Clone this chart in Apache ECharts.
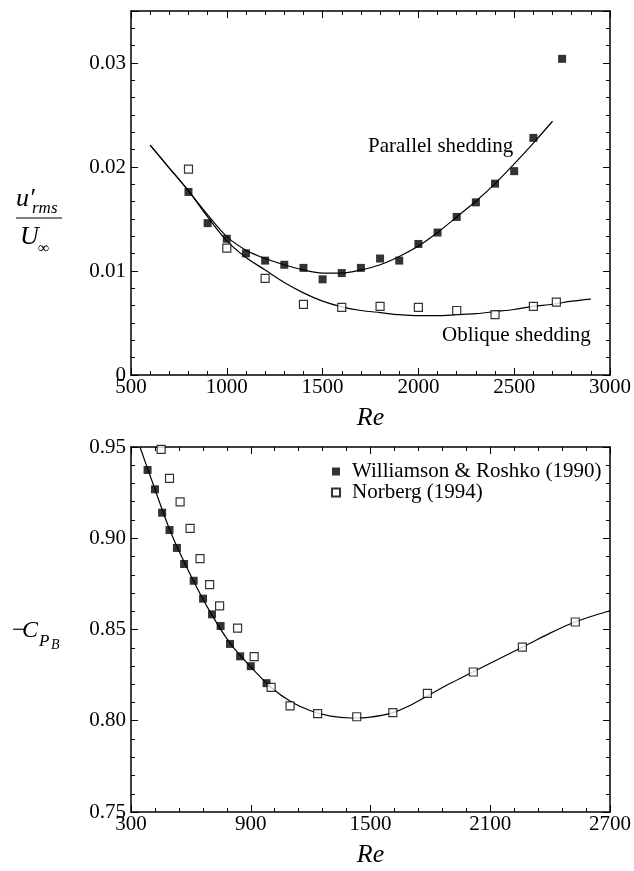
<!DOCTYPE html>
<html>
<head>
<meta charset="utf-8">
<script src="https://cdn.jsdelivr.net/npm/echarts@6.0.0/dist/echarts.min.js"></script>
<style>
  html, body { margin: 0; padding: 0; background: #fff; }
  #chart { width: 634px; height: 871px; }
</style>
</head>
<body>
<div id="chart"></div>
<script>
// ---- Upper panel: u'rms / U_inf against Re ----
const parallelRe  = [800, 900, 1000, 1100, 1200, 1300, 1400, 1500, 1600, 1700, 1800, 1900, 2000, 2100, 2200, 2300, 2400, 2500, 2600, 2750];
const parallelVal = [0.0176, 0.0146, 0.0131, 0.0117, 0.0110, 0.0106, 0.0103, 0.0092, 0.0098, 0.0103, 0.0112, 0.0110, 0.0126, 0.0137, 0.0152, 0.0166, 0.0184, 0.0196, 0.0228, 0.0304];

const obliqueRe  = [800, 1000, 1200, 1400, 1600, 1800, 2000, 2200, 2400, 2600, 2720];
const obliqueVal = [0.0198, 0.0122, 0.0093, 0.0068, 0.0065, 0.0066, 0.0065, 0.0062, 0.0058, 0.0066, 0.0070];

// fitted curves through each data set
const parallelFitRe  = [600, 700, 800, 900, 1000, 1100, 1200, 1300, 1400, 1500, 1600, 1700, 1800, 1900, 2000, 2100, 2200, 2300, 2400, 2500, 2600, 2700];
const parallelFitVal = [0.0221, 0.0199, 0.0177, 0.0154, 0.0133, 0.0120, 0.0112, 0.0106, 0.0101, 0.0098, 0.0098, 0.0101, 0.0106, 0.0114, 0.0124, 0.0137, 0.0152, 0.0167, 0.0184, 0.0203, 0.0223, 0.0244];

const obliqueFitRe  = [600, 700, 800, 900, 1000, 1100, 1200, 1300, 1400, 1500, 1600, 1700, 1800, 1900, 2000, 2100, 2200, 2300, 2400, 2500, 2600, 2700, 2800, 2900];
const obliqueFitVal = [0.0221, 0.0199, 0.0177, 0.0152, 0.0129, 0.0113, 0.0101, 0.0089, 0.0079, 0.0071, 0.00655, 0.0062, 0.0060, 0.0058, 0.0057, 0.0057, 0.0058, 0.0059, 0.0061, 0.0063, 0.0066, 0.0068, 0.0071, 0.0073];

// ---- Lower panel: base pressure coefficient -Cpb against Re ----
const wrRe  = [383, 420, 456, 493, 530, 566, 614, 661, 706, 749, 796, 847, 900, 979];
const wrVal = [0.9374, 0.9268, 0.9140, 0.9045, 0.8947, 0.8859, 0.8767, 0.8669, 0.8583, 0.8519, 0.8421, 0.8353, 0.8299, 0.8206];

const norbergRe  = [451, 493, 546, 596, 646, 694, 744, 834, 917, 1002, 1097, 1235, 1431, 1612, 1785, 2015, 2261, 2526];
const norbergVal = [0.9487, 0.9328, 0.9199, 0.9054, 0.8888, 0.8746, 0.8630, 0.8508, 0.8351, 0.8183, 0.8081, 0.8039, 0.8022, 0.8045, 0.8150, 0.8267, 0.8403, 0.8541];

const cpbFitRe  = [345, 400, 500, 600, 700, 800, 900, 1000, 1100, 1200, 1300, 1400, 1500, 1600, 1700, 1800, 1900, 2000, 2100, 2200, 2300, 2400, 2500, 2600, 2700];
const cpbFitVal = [0.950, 0.933, 0.903, 0.8795, 0.859, 0.842, 0.8295, 0.8185, 0.8105, 0.8055, 0.8025, 0.8015, 0.802, 0.804, 0.8085, 0.8145, 0.8205, 0.826, 0.8315, 0.837, 0.8425, 0.848, 0.853, 0.857, 0.8603];

// axis ranges and labels
const topXTicks = [500, 3000, 500];
const botXTicks = [300, 2700, 600];
const topYTicks = [0, 0.035, 0.01];
const botYTicks = [0.75, 0.95, 0.05];
const legendNames = ['Williamson & Roshko (1990)', 'Norberg (1994)'];
const noteParallel = 'Parallel shedding';
const noteOblique = 'Oblique shedding';
const xName = 'Re';

const zip = (xs, ys) => xs.map((x, i) => [x, ys[i]]);

const FONT = '"Liberation Serif", "Times New Roman", serif';
const INK = '#000';
const lineAx = { show: true, onZero: false, lineStyle: { color: INK, width: 1.5 } };

function xAxes(gridIndex, t) {
  const base = {
    type: 'value', gridIndex, min: t[0], max: t[1], interval: t[2],
    splitLine: { show: false },
    axisLine: lineAx,
    axisTick: { show: true, inside: true, length: 7, lineStyle: { color: INK, width: 1 } },
    minorTick: { show: true, splitNumber: 5, length: 4, lineStyle: { color: INK, width: 1 } }
  };
  return [
    Object.assign({}, base, {
      position: 'bottom',
      axisLabel: { show: true, color: INK, fontFamily: FONT, fontSize: 21, margin: 2, formatter: v => String(v) },
      name: xName, nameLocation: 'middle', nameGap: 30,
      nameTextStyle: { color: INK, fontFamily: FONT, fontSize: 26, fontStyle: 'italic' }
    }),
    Object.assign({}, base, { position: 'top', axisLabel: { show: false } })
  ];
}

function yAxis(gridIndex, t, position, opts) {
  return Object.assign({
    type: 'value', gridIndex, position, min: t[0], max: t[1], interval: t[2],
    splitLine: { show: false },
    axisLine: lineAx,
    axisTick: { show: true, inside: true, length: 7, lineStyle: { color: INK, width: 1 } },
    axisLabel: { show: false }
  }, opts || {});
}

const topLabel = v => (Math.abs(v - 0.035) < 1e-9 ? '' : (v === 0 ? '0' : v.toFixed(2)));
const botLabel = v => v.toFixed(2);
const minorStep = topYTicks[2] / 6;
const minorTickStyle = { show: true, inside: true, length: 4, lineStyle: { color: INK, width: 1 } };

const option = {
  backgroundColor: '#fff',
  animation: false,
  grid: [
    { left: 131, top: 11, width: 481, height: 364 },
    { left: 131, top: 447, width: 481, height: 365 }
  ],
  xAxis: [].concat(xAxes(0, topXTicks), xAxes(1, botXTicks)),
  yAxis: [
    yAxis(0, topYTicks, 'left', {
      axisLabel: { show: true, color: INK, fontFamily: FONT, fontSize: 21, margin: 5, formatter: topLabel }
    }),
    yAxis(0, [0, 0.035, minorStep], 'left', { axisLine: { show: false, onZero: false }, axisTick: minorTickStyle }),
    yAxis(0, topYTicks, 'right'),
    yAxis(0, [0, 0.035, minorStep], 'right', { axisLine: { show: false, onZero: false }, axisTick: minorTickStyle }),
    yAxis(1, botYTicks, 'left', {
      axisLabel: { show: true, color: INK, fontFamily: FONT, fontSize: 21, margin: 5, formatter: botLabel },
      minorTick: { show: true, splitNumber: 5, length: 4, lineStyle: { color: INK, width: 1 } }
    }),
    yAxis(1, botYTicks, 'right', {
      minorTick: { show: true, splitNumber: 5, length: 4, lineStyle: { color: INK, width: 1 } }
    })
  ],
  legend: {
    data: legendNames,
    orient: 'vertical',
    left: 326, top: 456,
    itemWidth: 8, itemHeight: 8, itemGap: 0,
    icon: 'rect',
    textStyle: { color: INK, fontFamily: FONT, fontSize: 21, lineHeight: 21, padding: [0, 0, 0, 7] }
  },
  series: [
    {
      type: 'line', xAxisIndex: 0, yAxisIndex: 0, data: zip(parallelFitRe, parallelFitVal),
      smooth: 0.3, showSymbol: false, lineStyle: { color: INK, width: 1.2 }, z: 2
    },
    {
      type: 'line', xAxisIndex: 0, yAxisIndex: 0, data: zip(obliqueFitRe, obliqueFitVal),
      smooth: 0.3, showSymbol: false, lineStyle: { color: INK, width: 1.2 }, z: 2
    },
    {
      type: 'scatter', xAxisIndex: 0, yAxisIndex: 0, data: zip(parallelRe, parallelVal),
      symbol: 'rect', symbolSize: 8, itemStyle: { color: INK }, z: 3
    },
    {
      type: 'scatter', xAxisIndex: 0, yAxisIndex: 0, data: zip(obliqueRe, obliqueVal),
      symbol: 'rect', symbolSize: 8, itemStyle: { color: '#fff', borderColor: INK, borderWidth: 1.2 }, z: 3
    },
    {
      type: 'line', xAxisIndex: 2, yAxisIndex: 4, data: zip(cpbFitRe, cpbFitVal),
      smooth: 0.3, showSymbol: false, lineStyle: { color: INK, width: 1.2 }, z: 2
    },
    {
      name: legendNames[0], type: 'scatter', xAxisIndex: 2, yAxisIndex: 4, data: zip(wrRe, wrVal),
      symbol: 'rect', symbolSize: 8, itemStyle: { color: INK }, z: 3
    },
    {
      name: legendNames[1], type: 'scatter', xAxisIndex: 2, yAxisIndex: 4, data: zip(norbergRe, norbergVal),
      symbol: 'rect', symbolSize: 8, itemStyle: { color: '#fff', borderColor: INK, borderWidth: 1.2 }, z: 3
    }
  ],
  graphic: [
    // curve annotations
    { type: 'text', style: { x: 368, y: 146, text: noteParallel, verticalAlign: 'middle', font: '21px ' + FONT, fill: INK } },
    { type: 'text', style: { x: 442, y: 335, text: noteOblique, verticalAlign: 'middle', font: '21px ' + FONT, fill: INK } },
    // upper y-axis title: u'_rms / U_inf
    { type: 'text', style: { x: 16, y: 199, text: 'u′', verticalAlign: 'middle', font: 'italic 26px ' + FONT, fill: INK } },
    { type: 'text', style: { x: 32, y: 209, text: 'rms', verticalAlign: 'middle', font: 'italic 17px ' + FONT, fill: INK } },
    { type: 'line', shape: { x1: 16, y1: 218, x2: 62, y2: 218 }, style: { stroke: INK, lineWidth: 1 } },
    { type: 'text', style: { x: 20, y: 237, text: 'U', verticalAlign: 'middle', font: 'italic 26px ' + FONT, fill: INK } },
    { type: 'text', style: { x: 38, y: 249, text: '∞', verticalAlign: 'middle', font: '16px ' + FONT, fill: INK } },
    // lower y-axis title: -C_{P_B}
    { type: 'text', style: { x: 12, y: 631, text: '−', verticalAlign: 'middle', font: '24px ' + FONT, fill: INK } },
    { type: 'text', style: { x: 22, y: 631, text: 'C', verticalAlign: 'middle', font: 'italic 24px ' + FONT, fill: INK } },
    { type: 'text', style: { x: 39, y: 642, text: 'P', verticalAlign: 'middle', font: 'italic 17px ' + FONT, fill: INK } },
    { type: 'text', style: { x: 51, y: 645, text: 'B', verticalAlign: 'middle', font: 'italic 14px ' + FONT, fill: INK } }
  ]
};

const chart = echarts.init(document.getElementById('chart'), null, { renderer: 'canvas' });
chart.setOption(option);
</script>
</body>
</html>
